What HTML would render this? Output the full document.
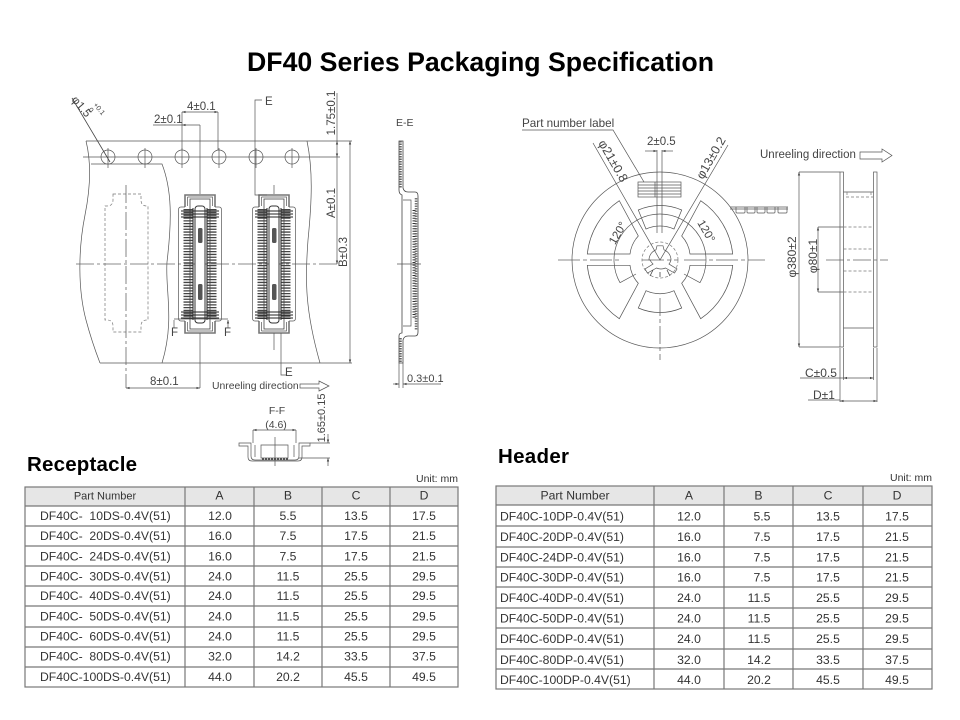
<!DOCTYPE html>
<html><head><meta charset="utf-8"><title>DF40 Series Packaging Specification</title>
<style>
html,body{margin:0;padding:0;background:#fff}
svg{display:block;filter:blur(.3px)}
text{font-family:"Liberation Sans",sans-serif;fill:#333;white-space:pre}
.d{font-size:11.5px;fill:#444}
.t{font-size:12.2px;fill:#333}
.m{text-anchor:middle}
.l{fill:none;stroke:#555;stroke-width:.7}
.k{fill:none;stroke:#444;stroke-width:.8}
.c{fill:none;stroke:#666;stroke-width:.8;stroke-dasharray:18 3 3 3}
.g{fill:none;stroke:#777;stroke-width:1.6}
.da{fill:none;stroke:#777;stroke-width:.7;stroke-dasharray:3 2}
.tb{stroke:#777;stroke-width:1.2;fill:none}
</style></head><body>
<svg width="960" height="720" viewBox="0 0 960 720" xmlns="http://www.w3.org/2000/svg">
<defs>
<marker id="a" viewBox="0 0 6 6" refX="6" refY="3" markerWidth="5" markerHeight="5" orient="auto-start-reverse"><path d="M0,1L6,3L0,5z" fill="#444"/></marker>
<g id="conn">
<path class="g" d="M-15,-57V-69H15V-57M-15,57V69H15V57" />
<path class="l" d="M-15,-57H-19Q-21.5,-57 -21.5,-54V54Q-21.5,57 -19,57H-15M15,-57H19Q21.5,-57 21.5,-54V54Q21.5,57 19,57H15"/>
<rect class="k" x="-10" y="-65" width="20" height="130"/>
<path class="l" d="M-12.5,-67H12.5V-58M-12.5,-67V-58M-12.5,67H12.5V58M-12.5,67V58"/>
<line x1="-11.5" y1="-55" x2="-11.5" y2="55" stroke="#444" stroke-width="10" stroke-dasharray="1.3 1.5"/>
<line x1="11.5" y1="-55" x2="11.5" y2="55" stroke="#444" stroke-width="10" stroke-dasharray="1.3 1.5"/>
<rect x="-5" y="-58" width="10" height="117" rx="3" fill="#fff" stroke="#333" stroke-width="1"/>
<path d="M-7,-56V56M7,-56V56" stroke="#333" stroke-width="1.1" fill="none"/>
<path d="M-19,-53H19M-19,-50H19M-19,-47H19M-19,48H19M-19,51H19M-19,54H19" stroke="#222" stroke-width=".9" fill="none"/>
<rect x="-2" y="-36" width="4.5" height="15" rx="1.5" fill="#555"/>
<rect x="-2" y="20" width="4.5" height="16" rx="1.5" fill="#555"/>
</g>
</defs>

<rect width="960" height="720" fill="#fff"/>
<text x="247" y="71" font-size="26.7" font-weight="bold" style="fill:#000" textLength="467" lengthAdjust="spacing">DF40 Series Packaging Specification</text>

<!-- LEFT TAPE -->
<path class="l" d="M86,141H352M100,363H352"/>
<path class="l" d="M86,141C92,165 90,190 85,215C78,250 78,290 86,320C90,335 95,350 100,363"/>
<path class="l" d="M307,141C313,170 312,200 308,240C305,280 305,310 320,363"/>
<path class="l" d="M91,164H162C172,190 172,220 167,262C165,290 175,320 162,363"/>
<path class="da" d="M113,194H141V200Q141,206 147,206H148V320H147Q141,320 141,326V332H113V326Q113,320 107,320H105V206H107Q113,206 113,200Z"/>
<g class="l">
<circle cx="108" cy="157" r="7"/><circle cx="145" cy="157" r="7"/><circle cx="182" cy="157" r="7"/><circle cx="219" cy="157" r="7"/><circle cx="256" cy="157" r="7"/><circle cx="292" cy="157" r="7"/>
</g>
<path class="l" d="M83,157H340M108,148V168M145,148V168M182,148V168M219,148V168M256,148V168M292,148V168"/>
<path class="c" d="M126,185V388"/>
<path class="c" d="M76,264H340"/>
<use href="#conn" x="200" y="264"/>
<use href="#conn" x="274" y="264"/>
<path class="l" d="M200,125V194M200,333V388M274,185V194M274,333V350"/>
<path class="k" d="M72,98L110,162" />
<text class="d" transform="translate(71,100) rotate(50)">φ1.5</text>
<text transform="translate(93,105) rotate(50)" font-size="7" style="fill:#444">+0.1</text>
<text transform="translate(88,110) rotate(50)" font-size="7" style="fill:#444">0</text>
<!-- dims top -->
<path class="l" d="M182,112V150M218,112V150M153,125H182"/>
<path class="l" d="M182,112H218" marker-start="url(#a)" marker-end="url(#a)"/>
<path class="l" d="M182,125H200" marker-start="url(#a)"/>
<text class="d" x="187" y="110">4±0.1</text>
<text class="d" x="154" y="123">2±0.1</text>
<path class="l" d="M262,100H255V195H267"/>
<text class="d" x="265" y="105">E</text>
<path class="l" d="M281,333V375H286"/>
<text class="d" x="285" y="376">E</text>
<path class="l" d="M337,93V141"/>
<path class="l" d="M337,141V157" marker-start="url(#a)" marker-end="url(#a)"/>
<path class="l" d="M337,157V264" marker-end="url(#a)"/>
<path class="l" d="M350,141V363" marker-start="url(#a)" marker-end="url(#a)"/>
<text class="d m" transform="translate(335,113) rotate(-90)">1.75±0.1</text>
<text class="d m" transform="translate(335,203) rotate(-90)">A±0.1</text>
<text class="d m" transform="translate(347,252) rotate(-90)">B±0.3</text>
<path class="l" d="M126,388H200" marker-start="url(#a)" marker-end="url(#a)"/>
<text class="d" x="150" y="385">8±0.1</text>
<text class="d" x="212" y="389" style="font-size:10.4px">Unreeling direction</text>
<path class="l" d="M300,384H319V381L329,386L319,391V388H300Z"/>
<path class="l" d="M174,319H228"/>
<path class="l" d="M174,328V320M228,328V320" marker-end="url(#a)"/>
<text class="d" x="171" y="336">F</text><text class="d" x="224" y="336">F</text>

<!-- E-E section -->
<text class="d" x="396" y="126" style="font-size:10.5px">E-E</text>
<path class="k" d="M399,141H403V188Q404,192 408,192H415Q418,192 418,196V332Q418,336 415,336H408Q404,336 403,340V363H399V336Q399,333 402,333V195Q399,194 399,190Z"/>
<path class="l" d="M403,200H411V326H403"/>
<line x1="400.5" y1="141" x2="400.5" y2="188" stroke="#666" stroke-width="2.5" stroke-dasharray="1.5 1"/>
<line x1="400.5" y1="338" x2="400.5" y2="363" stroke="#666" stroke-width="2.5" stroke-dasharray="1.5 1"/>
<line x1="416" y1="198" x2="416" y2="330" stroke="#777" stroke-width="2.5" stroke-dasharray="1.5 1"/>
<line x1="414" y1="210" x2="414" y2="318" stroke="#333" stroke-width="3" stroke-dasharray="1 1.6"/>
<path class="l" d="M397,264H421" stroke-width="1"/>
<path class="l" d="M399,363V388M403,363V388"/>
<path class="l" d="M393,384H399" marker-end="url(#a)"/>
<path class="l" d="M441,384H403" marker-end="url(#a)"/>
<text class="d" x="407" y="382" style="font-size:11px">0.3±0.1</text>

<!-- F-F -->
<text class="d m" x="277" y="414" style="font-size:10.5px">F-F</text>
<text class="d m" x="276" y="428" style="font-size:10.5px">(4.6)</text>
<path class="l" d="M253,430H296" marker-start="url(#a)" marker-end="url(#a)"/>
<path class="l" d="M253,430V443M296,430V443"/>
<path class="l" d="M239,443H251V456Q251,460 255,460H295Q299,460 299,456V443H310V446H302V457Q302,461 298,461H252Q248,461 248,457V446H239Z"/>
<path class="l" d="M261,445H288V458H261Z"/>
<path class="l" d="M255,445V457M294,445V457M275,437V466"/>
<line x1="262" y1="459" x2="288" y2="459" stroke="#444" stroke-width="1.5" stroke-dasharray="2 1"/>
<path class="l" d="M310,443H330M299,458H330"/>
<path class="l" d="M328,434V443" marker-end="url(#a)"/>
<path class="l" d="M328,466V458" marker-end="url(#a)"/>
<text class="d m" transform="translate(325,418) rotate(-90)" style="font-size:11px">1.65±0.15</text>

<!-- REEL -->
<circle class="l" cx="660" cy="260" r="88"/>
<path class="l" d="M587.3,254A73,73 0 0 1 619.3,200.7L638.3,236A32,32 0 0 0 630,254Z"/>
<path class="l" d="M732.7,254A73,73 0 0 0 700.7,200.7L681.7,236A32,32 0 0 1 690,254Z"/>
<path class="l" d="M587.3,265.3A73,73 0 0 0 619.3,318.7L638.3,283.3A32,32 0 0 1 630,265.3Z"/>
<path class="l" d="M732.7,265.3A73,73 0 0 1 700.7,318.7L681.7,283.3A32,32 0 0 0 690,265.3Z"/>
<path class="l" d="M638.3,210A54.5,54.5 0 0 1 681.7,210L674,229A34,34 0 0 0 646,229Z"/>
<path class="l" d="M638.3,308A54.5,54.5 0 0 0 681.7,308L674,290.7A34,34 0 0 1 646,290.7Z"/>
<path class="l" d="M620,282.7A46,46 0 1 1 700,282.7" />
<path class="l" d="M620,282.7L636,274M700,282.7L684,274"/>
<path class="c" d="M558,260H622M642,260H678M684,260H765" style="stroke-dasharray:22 3 4 3"/>
<path class="c" d="M660,298V360" style="stroke-dasharray:18 3 4 3"/>
<circle cx="660" cy="260" r="18" class="da"/>
<path class="l" d="M660,260m-11,0a11,11 0 0 1 7,-10.2l1,-4h6l1,4a11,11 0 0 1 7,10.2q-1,3 -2,4l8,5l-2.5,4l-9,-5a11,11 0 0 1 -9,0l-9,5l-2.5,-4l8,-5q-2,-2 -3,-4z"/>
<path class="k" d="M653,270L650,276M667,270L670,276M660,272V277"/>
<path class="l" d="M593,143L660,260L728,145"/>
<path class="l" d="M657,150V233M662,150V233"/>
<path class="l" d="M645,151H657" marker-end="url(#a)"/>
<path class="l" d="M673,151H662" marker-end="url(#a)"/>
<text class="d" x="647" y="145" style="font-size:11.5px">2±0.5</text>
<rect class="l" x="638" y="182" width="43" height="15"/>
<path class="l" d="M638,185H681M638,188H681M638,191H681M638,194H681M655,182V197"/>
<path class="l" d="M522,130H613L644,182" />
<text class="d" x="522" y="127" style="font-size:11.7px">Part number label</text>
<text class="d" transform="translate(598,143) rotate(60)" style="font-size:12.5px">φ21±0.8</text>
<text class="d" transform="translate(703,180) rotate(-60)" style="font-size:12.5px">φ13±0.2</text>
<text class="d m" transform="translate(621,235) rotate(-60)" style="font-size:11.5px">120°</text>
<text class="d m" transform="translate(703,233) rotate(60)" style="font-size:11.5px">120°</text>
<!-- tape bit -->
<path class="l" d="M730,207H788"/>
<path class="l" d="M736,207V212Q736,213 737,213H744Q745,213 745,212V207M747,207V212Q747,213 748,213H754Q755,213 755,212V207M757,207V212Q757,213 758,213H764Q765,213 765,212V207M767,207V212Q767,213 768,213H774Q775,213 775,212V207M778,207V212Q778,213 779,213H786Q787,213 787,212V207"/>
<path class="l" d="M730,209H788"/>

<!-- side view -->
<text class="d" x="760" y="158" style="font-size:11.5px">Unreeling direction</text>
<path class="l" d="M860,152H882V149L892,155.5L882,162V159H860Z"/>
<rect class="l" x="840" y="172" width="3.5" height="175"/>
<rect class="l" x="873.5" y="172" width="3.5" height="175"/>
<path class="l" d="M843.5,192H873.5M843.5,328H873.5"/>
<path class="da" d="M846,197H873M843.5,227H873M843.5,249H873M843.5,271H873M843.5,292H873M847,192V197M871,192V197"/>
<path class="l" d="M799,172H840M799,347H840" />
<path class="l" d="M799,172V347" marker-start="url(#a)" marker-end="url(#a)"/>
<path class="l" d="M818,227H843M818,292H843"/>
<path class="l" d="M818,227V292" marker-start="url(#a)" marker-end="url(#a)"/>
<path class="c" d="M826,260H888"/>
<text class="d m" transform="translate(796,257) rotate(-90)" style="font-size:12px">φ380±2</text>
<text class="d m" transform="translate(817,256) rotate(-90)" style="font-size:12px">φ80±1</text>
<path class="l" d="M840,348V402M843.5,348V380M873.5,348V380M877,348V402"/>
<path class="l" d="M800,378H843.5M808,400H840"/>
<path class="l" d="M843.5,378H873.5" marker-start="url(#a)" marker-end="url(#a)"/>
<path class="l" d="M840,401H877" marker-start="url(#a)" marker-end="url(#a)"/>
<text class="d" x="805" y="377" style="font-size:12px">C±0.5</text>
<text class="d" x="813" y="399" style="font-size:12px">D±1</text>

<!-- LEFT TABLE -->
<text x="27" y="471" font-size="20.5" font-weight="bold" style="fill:#000" textLength="110">Receptacle</text>
<text x="458" y="482" font-size="10.5" text-anchor="end">Unit: mm</text>
<rect x="25" y="487" width="433" height="19" fill="#e6e6e6"/>
<rect class="tb" x="25" y="487" width="433" height="200"/>
<path class="tb" d="M25,506H458M25,526H458M25,546H458M25,566H458M25,586H458M25,606H458M25,627H458M25,647H458M25,667H458M185,487V687M254,487V687M322,487V687M390,487V687"/>
<g class="t">
<text x="105" y="499.5" class="m" style="font-size:11px">Part Number</text><text x="219.5" y="499.5" class="m">A</text><text x="288" y="499.5" class="m">B</text><text x="356" y="499.5" class="m">C</text><text x="424" y="499.5" class="m">D</text>
<text x="40" y="520">DF40C-  10DS-0.4V(51)</text><text x="220" y="520" class="m">12.0</text><text x="288" y="520" class="m">5.5</text><text x="356" y="520" class="m">13.5</text><text x="424" y="520" class="m">17.5</text>
<text x="40" y="540">DF40C-  20DS-0.4V(51)</text><text x="220" y="540" class="m">16.0</text><text x="288" y="540" class="m">7.5</text><text x="356" y="540" class="m">17.5</text><text x="424" y="540" class="m">21.5</text>
<text x="40" y="560.5">DF40C-  24DS-0.4V(51)</text><text x="220" y="560.5" class="m">16.0</text><text x="288" y="560.5" class="m">7.5</text><text x="356" y="560.5" class="m">17.5</text><text x="424" y="560.5" class="m">21.5</text>
<text x="40" y="580.5">DF40C-  30DS-0.4V(51)</text><text x="220" y="580.5" class="m">24.0</text><text x="288" y="580.5" class="m">11.5</text><text x="356" y="580.5" class="m">25.5</text><text x="424" y="580.5" class="m">29.5</text>
<text x="40" y="600">DF40C-  40DS-0.4V(51)</text><text x="220" y="600" class="m">24.0</text><text x="288" y="600" class="m">11.5</text><text x="356" y="600" class="m">25.5</text><text x="424" y="600" class="m">29.5</text>
<text x="40" y="620.5">DF40C-  50DS-0.4V(51)</text><text x="220" y="620.5" class="m">24.0</text><text x="288" y="620.5" class="m">11.5</text><text x="356" y="620.5" class="m">25.5</text><text x="424" y="620.5" class="m">29.5</text>
<text x="40" y="640.5">DF40C-  60DS-0.4V(51)</text><text x="220" y="640.5" class="m">24.0</text><text x="288" y="640.5" class="m">11.5</text><text x="356" y="640.5" class="m">25.5</text><text x="424" y="640.5" class="m">29.5</text>
<text x="40" y="660.5">DF40C-  80DS-0.4V(51)</text><text x="220" y="660.5" class="m">32.0</text><text x="288" y="660.5" class="m">14.2</text><text x="356" y="660.5" class="m">33.5</text><text x="424" y="660.5" class="m">37.5</text>
<text x="40" y="681">DF40C-100DS-0.4V(51)</text><text x="220" y="681" class="m">44.0</text><text x="288" y="681" class="m">20.2</text><text x="356" y="681" class="m">45.5</text><text x="424" y="681" class="m">49.5</text>
</g>

<!-- RIGHT TABLE -->
<text x="498" y="463" font-size="20.5" font-weight="bold" style="fill:#000" textLength="71">Header</text>
<text x="932" y="481" font-size="10.5" text-anchor="end">Unit: mm</text>
<rect x="496" y="486" width="436" height="19" fill="#e6e6e6"/>
<rect class="tb" x="496" y="486" width="436" height="203"/>
<path class="tb" d="M496,505H932M496,526H932M496,547H932M496,567H932M496,587H932M496,608H932M496,628H932M496,649H932M496,669H932M654,486V689M724,486V689M793,486V689M863,486V689"/>
<g class="t">
<text x="575" y="499.5" class="m">Part Number</text><text x="689" y="499.5" class="m">A</text><text x="758.5" y="499.5" class="m">B</text><text x="828" y="499.5" class="m">C</text><text x="897" y="499.5" class="m">D</text>
<text x="500" y="520.5">DF40C-10DP-0.4V(51)</text><text x="689" y="520.5" class="m">12.0</text><text x="762" y="520.5" class="m">5.5</text><text x="828" y="520.5" class="m">13.5</text><text x="897" y="520.5" class="m">17.5</text>
<text x="500" y="541">DF40C-20DP-0.4V(51)</text><text x="689" y="541" class="m">16.0</text><text x="762" y="541" class="m">7.5</text><text x="828" y="541" class="m">17.5</text><text x="897" y="541" class="m">21.5</text>
<text x="500" y="561.5">DF40C-24DP-0.4V(51)</text><text x="689" y="561.5" class="m">16.0</text><text x="762" y="561.5" class="m">7.5</text><text x="828" y="561.5" class="m">17.5</text><text x="897" y="561.5" class="m">21.5</text>
<text x="500" y="581.5">DF40C-30DP-0.4V(51)</text><text x="689" y="581.5" class="m">16.0</text><text x="762" y="581.5" class="m">7.5</text><text x="828" y="581.5" class="m">17.5</text><text x="897" y="581.5" class="m">21.5</text>
<text x="500" y="602">DF40C-40DP-0.4V(51)</text><text x="689" y="602" class="m">24.0</text><text x="759" y="602" class="m">11.5</text><text x="828" y="602" class="m">25.5</text><text x="897" y="602" class="m">29.5</text>
<text x="500" y="622.5">DF40C-50DP-0.4V(51)</text><text x="689" y="622.5" class="m">24.0</text><text x="759" y="622.5" class="m">11.5</text><text x="828" y="622.5" class="m">25.5</text><text x="897" y="622.5" class="m">29.5</text>
<text x="500" y="643">DF40C-60DP-0.4V(51)</text><text x="689" y="643" class="m">24.0</text><text x="759" y="643" class="m">11.5</text><text x="828" y="643" class="m">25.5</text><text x="897" y="643" class="m">29.5</text>
<text x="500" y="664">DF40C-80DP-0.4V(51)</text><text x="689" y="664" class="m">32.0</text><text x="759" y="664" class="m">14.2</text><text x="828" y="664" class="m">33.5</text><text x="897" y="664" class="m">37.5</text>
<text x="500" y="684">DF40C-100DP-0.4V(51)</text><text x="689" y="684" class="m">44.0</text><text x="759" y="684" class="m">20.2</text><text x="828" y="684" class="m">45.5</text><text x="897" y="684" class="m">49.5</text>
</g>
</svg>
</body></html>
